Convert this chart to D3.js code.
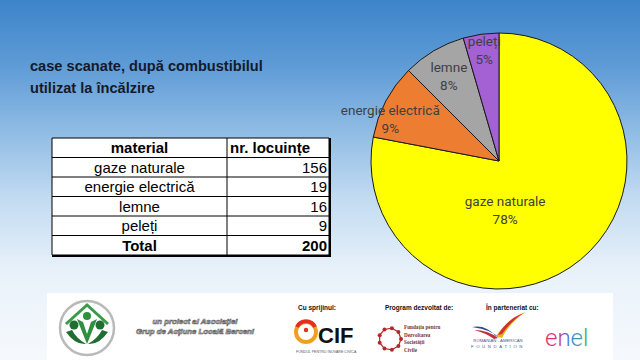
<!DOCTYPE html>
<html><head><meta charset="utf-8">
<script src="https://cdn.jsdelivr.net/npm/d3@7/dist/d3.min.js"></script>
<style>html,body{margin:0;padding:0;overflow:hidden;}svg{display:block;}</style>
</head><body>
<svg id="chart" width="640" height="360"></svg>
<script>
// ---- data ----
const categories = ["gaze naturale", "energie electrică", "lemne", "peleți"];
const counts = [156, 19, 16, 9];
const percentLabels = ["78%", "9%", "8%", "5%"];
const totalLabel = "Total";
const totalValue = 200;
const tableHeaders = ["material", "nr. locuințe"];
const titleLines = ["case scanate, după combustibilul", "utilizat la încălzire"];
const sliceColors = ["#ffff00", "#ed7d31", "#a5a5a5", "#a361d4"];
// label layout: [angle position within slice (0..1), radius fraction]
const labelLayout = [[0.616, 0.39], [0.30, 0.91], [0.5, 0.77], [0.53, 0.87]];

const svg = d3.select("#chart");
const W = 640, H = 360;

// background gradient
const defs = svg.append("defs");
const bg = defs.append("linearGradient").attr("id", "bg").attr("x1", 0).attr("y1", 0).attr("x2", 0).attr("y2", 1);
[[0, "#3d84ca"], [0.18, "#5e9bd6"], [0.36, "#8ebbe4"], [0.55, "#c2dbf1"], [0.75, "#e8f1fa"], [1, "#f6f9fc"]]
  .forEach(([o, c]) => bg.append("stop").attr("offset", o).attr("stop-color", c));
svg.append("rect").attr("width", W).attr("height", H).attr("fill", "url(#bg)");

// title
svg.append("g").selectAll("text").data(titleLines).join("text")
  .attr("x", 30).attr("y", (d, i) => 71 + i * 22)
  .attr("font-family", "Liberation Sans, Arial, sans-serif").attr("font-weight", "bold")
  .attr("font-size", 14.6).attr("fill", "#141a2c").text(d => d);

// table
const tX0 = 52, tX1 = 227, tX2 = 329, tY0 = 138, rowH = 19.5;
const rows = [tableHeaders].concat(categories.map((c, i) => [c, String(counts[i])])).concat([[totalLabel, String(totalValue)]]);
const y = d3.scaleBand().domain(d3.range(rows.length)).range([tY0, tY0 + rowH * rows.length]);
const tg = svg.append("g");
tg.append("rect").attr("x", tX0).attr("y", tY0).attr("width", tX2 - tX0).attr("height", rowH * rows.length).attr("fill", "#ffffff");
// shadow-ish thick right/bottom border
tg.append("line").attr("x1", tX2 + 1).attr("x2", tX2 + 1).attr("y1", tY0).attr("y2", tY0 + rowH * rows.length + 2).attr("stroke", "#000").attr("stroke-width", 2);
tg.append("line").attr("x1", tX0).attr("x2", tX2 + 2).attr("y1", tY0 + rowH * rows.length + 1).attr("y2", tY0 + rowH * rows.length + 1).attr("stroke", "#000").attr("stroke-width", 2);
d3.range(rows.length + 1).forEach(i => {
  tg.append("line").attr("x1", tX0).attr("x2", tX2).attr("y1", tY0 + i * rowH).attr("y2", tY0 + i * rowH).attr("stroke", "#000").attr("stroke-width", 1);
});
[tX0, tX1, tX2].forEach(x => tg.append("line").attr("x1", x).attr("x2", x).attr("y1", tY0).attr("y2", tY0 + rowH * rows.length).attr("stroke", "#000").attr("stroke-width", 1));
rows.forEach((r, i) => {
  const bold = (i === 0 || i === rows.length - 1);
  const cy = y(i) + y.bandwidth() / 2;
  tg.append("text").attr("x", (tX0 + tX1) / 2).attr("y", cy).attr("dy", "0.36em")
    .attr("text-anchor", "middle").attr("font-family", "Liberation Sans, Arial, sans-serif")
    .attr("font-size", 15).attr("font-weight", bold ? "bold" : "normal").attr("fill", "#000").text(r[0]);
  tg.append("text").attr("x", i === 0 ? tX1 + 3 : tX2 - 2).attr("y", cy).attr("dy", "0.36em")
    .attr("text-anchor", i === 0 ? "start" : "end").attr("font-family", "Liberation Sans, Arial, sans-serif")
    .attr("font-size", 15).attr("font-weight", bold ? "bold" : "normal").attr("fill", "#000").text(r[1]);
});

// pie
const cx = 499, cy = 161, R = 128;
const pie = d3.pie().sort(null).value(d => d)(counts);
const arc = d3.arc().innerRadius(0).outerRadius(R);
const pg = svg.append("g").attr("transform", `translate(${cx},${cy})`);
pg.selectAll("path").data(pie).join("path").attr("d", arc)
  .attr("fill", (d, i) => sliceColors[i]).attr("stroke", "#1a1a1a").attr("stroke-width", 1);
const lg = pg.append("g").attr("font-family", "Roboto, sans-serif").attr("font-size", 13.5).attr("fill", "#404040").attr("text-anchor", "middle");
pie.forEach((d, i) => {
  const a = d.startAngle + (d.endAngle - d.startAngle) * labelLayout[i][0];
  const r = R * labelLayout[i][1];
  const lx = r * Math.sin(a), ly = -r * Math.cos(a);
  lg.append("text").attr("x", lx).attr("y", ly - 9).attr("dy", "0.35em").text(categories[i]);
  lg.append("text").attr("x", lx).attr("y", ly + 9).attr("dy", "0.35em").text(percentLabels[i]);
});

// footer
const fg = svg.append("g");
fg.append("rect").attr("x", 47).attr("y", 293).attr("width", 566).attr("height", 67).attr("fill", "#ffffff");
// association logo
fg.append("circle").attr("cx", 87).attr("cy", 328).attr("r", 27).attr("fill", "#fff").attr("stroke", "#b9b9b9").attr("stroke-width", 2.5);
fg.append("path").attr("d", "M66,324 L87,305 L108,324").attr("fill", "none").attr("stroke", "#3c9a4a").attr("stroke-width", 3);
fg.append("circle").attr("cx", 87).attr("cy", 316).attr("r", 4).attr("fill", "#2f8f3f");
fg.append("path").attr("d", "M77,319 L87,344 L97,319 L91,322 L87,334 L83,322 Z").attr("fill", "#2f8f3f");
fg.append("circle").attr("cx", 74).attr("cy", 325).attr("r", 4.5).attr("fill", "#1f6f30");
fg.append("circle").attr("cx", 100).attr("cy", 325).attr("r", 4.5).attr("fill", "#1f6f30");
fg.append("path").attr("d", "M66,332 Q75,345 86,344 Q76,338 72,330 Z").attr("fill", "#1f6f30");
fg.append("path").attr("d", "M108,332 Q99,345 88,344 Q98,338 102,330 Z").attr("fill", "#1f6f30");
const at = fg.append("g").attr("font-family", "Liberation Sans, Arial, sans-serif").attr("font-style", "italic")
  .attr("font-weight", "bold").attr("font-size", 7.8).attr("fill", "#ffffff").attr("stroke", "#666").attr("stroke-width", 0.7).attr("text-anchor", "middle");
at.append("text").attr("x", 195).attr("y", 324).text("un proiect al Asociației");
at.append("text").attr("x", 195).attr("y", 334).text("Grup de Acțiune Locală Berceni");
// headers
const hf = fg.append("g").attr("font-family", "Liberation Sans Narrow, Liberation Sans, Arial, sans-serif").attr("font-weight", "bold").attr("font-size", 6.5).attr("fill", "#111");
hf.append("text").attr("x", 298).attr("y", 310).text("Cu sprijinul:");
hf.append("text").attr("x", 385).attr("y", 310).text("Program dezvoltat de:");
hf.append("text").attr("x", 486).attr("y", 310).text("În parteneriat cu:");
// CIF logo
fg.append("circle").attr("cx", 306).attr("cy", 332).attr("r", 10).attr("fill", "none").attr("stroke", "#f0a020").attr("stroke-width", 4);
fg.append("path").attr("d", "M297,327 A10,10 0 0 1 315,327").attr("fill", "none").attr("stroke", "#e03020").attr("stroke-width", 4);
fg.append("circle").attr("cx", 306).attr("cy", 330).attr("r", 2.2).attr("fill", "#e03020");
fg.append("text").attr("x", 318).attr("y", 343).attr("font-family", "Liberation Sans, Arial, sans-serif").attr("font-weight", "bold").attr("font-size", 22).attr("fill", "#111").text("CIF");
fg.append("text").attr("x", 296).attr("y", 353).attr("font-family", "Liberation Sans, Arial, sans-serif").attr("font-size", 3.6).attr("fill", "#555").text("FONDUL PENTRU INOVARE CIVICĂ");
// FDSC logo
const fd = fg.append("g").attr("transform", "translate(390,339)");
d3.range(9).forEach(k => {
  const a = k / 9 * 2 * Math.PI;
  fd.append("circle").attr("cx", 11 * Math.cos(a)).attr("cy", 11 * Math.sin(a)).attr("r", 2).attr("fill", "#b02a2a");
  fd.append("line").attr("x1", 11 * Math.cos(a)).attr("y1", 11 * Math.sin(a)).attr("x2", 11 * Math.cos(a + 0.7)).attr("y2", 11 * Math.sin(a + 0.7)).attr("stroke", "#b02a2a").attr("stroke-width", 1.2);
});
const ft = fg.append("g").attr("font-family", "Liberation Serif, serif").attr("font-weight", "bold").attr("font-size", 5.2).attr("fill", "#7a3030");
["Fundația pentru", "Dezvoltarea", "Societății", "Civile"].forEach((t, i) => ft.append("text").attr("x", 404).attr("y", 329 + i * 7.5).text(t));
// Romanian-American Foundation
fg.append("path").attr("d", "M472,327 Q485,324 496,336 L500,338 Q492,330 472,327 Z").attr("fill", "#2b4d8c");
fg.append("path").attr("d", "M496,336 Q505,322 527,311 Q510,322 502,338 Z").attr("fill", "#e8b020");
fg.append("path").attr("d", "M498,335 Q508,318 524,313 Q512,320 502,334 Z").attr("fill", "#d03030");
fg.append("path").attr("d", "M474,330 Q488,330 498,338 L494,339 Q486,333 474,330 Z").attr("fill", "#c0303a");
fg.append("text").attr("x", 498).attr("y", 341.5).attr("text-anchor", "middle").attr("font-family", "Liberation Sans, Arial, sans-serif").attr("font-size", 4.3).attr("fill", "#4a5a8a").text("ROMANIAN - AMERICAN");
fg.append("text").attr("x", 498).attr("y", 347.5).attr("text-anchor", "middle").attr("font-family", "Liberation Sans, Arial, sans-serif").attr("font-size", 4.3).attr("letter-spacing", 2.6).attr("fill", "#4a5a8a").text("FOUNDATION");
// enel
const eg = defs.append("linearGradient").attr("id", "enel").attr("x1", 0).attr("x2", 1);
[[0, "#e8326a"], [0.35, "#c63a9e"], [0.6, "#2f8ce0"], [1, "#3cb54a"]].forEach(([o, c]) => eg.append("stop").attr("offset", o).attr("stop-color", c));
fg.append("text").attr("x", 545).attr("y", 346).attr("font-family", "Roboto, sans-serif").attr("font-weight", 300).attr("font-size", 24).attr("fill", "url(#enel)").text("enel");
</script>
</body></html>
